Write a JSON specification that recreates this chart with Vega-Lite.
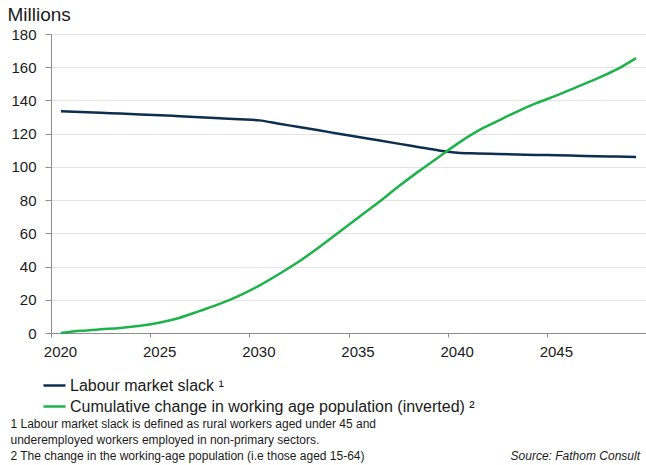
{
  "$schema": "https://vega.github.io/schema/vega-lite/v6.json",
  "width": 595,
  "height": 299,
  "autosize": "none",
  "padding": {"left": 51, "top": 34, "right": 0, "bottom": 132},
  "background": "white",
  "config": {
    "font": "Liberation Sans",
    "view": {"stroke": null}
  },
  "title": {
    "text": "Source: Fathom Consult",
    "orient": "bottom",
    "anchor": "end",
    "frame": "group",
    "fontSize": 12,
    "fontStyle": "italic",
    "fontWeight": "normal",
    "color": "#1a1a1a",
    "offset": 0,
    "dx": -6,
    "dy": -10
  },
  "data": {
    "values": [
      {"year": 2020.5, "series": "Labour market slack", "value": 133.5},
      {"year": 2021.5, "series": "Labour market slack", "value": 133.1},
      {"year": 2022.5, "series": "Labour market slack", "value": 132.6},
      {"year": 2023.5, "series": "Labour market slack", "value": 132.1},
      {"year": 2024.5, "series": "Labour market slack", "value": 131.6},
      {"year": 2025.5, "series": "Labour market slack", "value": 131.1},
      {"year": 2026.5, "series": "Labour market slack", "value": 130.5},
      {"year": 2027.5, "series": "Labour market slack", "value": 129.9},
      {"year": 2028.5, "series": "Labour market slack", "value": 129.3},
      {"year": 2029.5, "series": "Labour market slack", "value": 128.7},
      {"year": 2030.5, "series": "Labour market slack", "value": 128.0},
      {"year": 2031.5, "series": "Labour market slack", "value": 126.0},
      {"year": 2032.5, "series": "Labour market slack", "value": 124.0},
      {"year": 2033.5, "series": "Labour market slack", "value": 122.0},
      {"year": 2034.5, "series": "Labour market slack", "value": 120.0},
      {"year": 2035.5, "series": "Labour market slack", "value": 118.0},
      {"year": 2036.5, "series": "Labour market slack", "value": 116.0},
      {"year": 2037.5, "series": "Labour market slack", "value": 114.0},
      {"year": 2038.5, "series": "Labour market slack", "value": 112.0},
      {"year": 2039.5, "series": "Labour market slack", "value": 110.0},
      {"year": 2040.5, "series": "Labour market slack", "value": 108.5},
      {"year": 2041.5, "series": "Labour market slack", "value": 108.1},
      {"year": 2042.5, "series": "Labour market slack", "value": 107.8},
      {"year": 2043.5, "series": "Labour market slack", "value": 107.5},
      {"year": 2044.5, "series": "Labour market slack", "value": 107.2},
      {"year": 2045.5, "series": "Labour market slack", "value": 107.0},
      {"year": 2046.5, "series": "Labour market slack", "value": 106.7},
      {"year": 2047.5, "series": "Labour market slack", "value": 106.4},
      {"year": 2048.5, "series": "Labour market slack", "value": 106.2},
      {"year": 2049.5, "series": "Labour market slack", "value": 106.0},
      {"year": 2020.5, "series": "Cumulative change in working age population (inverted)", "value": 0},
      {"year": 2021.5, "series": "Cumulative change in working age population (inverted)", "value": 1.3},
      {"year": 2022.5, "series": "Cumulative change in working age population (inverted)", "value": 2.2},
      {"year": 2023.5, "series": "Cumulative change in working age population (inverted)", "value": 3.0},
      {"year": 2024.5, "series": "Cumulative change in working age population (inverted)", "value": 4.3},
      {"year": 2025.5, "series": "Cumulative change in working age population (inverted)", "value": 6.3},
      {"year": 2026.5, "series": "Cumulative change in working age population (inverted)", "value": 9.2},
      {"year": 2027.5, "series": "Cumulative change in working age population (inverted)", "value": 13.3},
      {"year": 2028.5, "series": "Cumulative change in working age population (inverted)", "value": 17.5},
      {"year": 2029.5, "series": "Cumulative change in working age population (inverted)", "value": 22.5},
      {"year": 2030.5, "series": "Cumulative change in working age population (inverted)", "value": 28.5},
      {"year": 2031.5, "series": "Cumulative change in working age population (inverted)", "value": 35.5},
      {"year": 2032.5, "series": "Cumulative change in working age population (inverted)", "value": 43.0},
      {"year": 2033.5, "series": "Cumulative change in working age population (inverted)", "value": 51.5},
      {"year": 2034.5, "series": "Cumulative change in working age population (inverted)", "value": 60.5},
      {"year": 2035.5, "series": "Cumulative change in working age population (inverted)", "value": 69.5},
      {"year": 2036.5, "series": "Cumulative change in working age population (inverted)", "value": 78.5},
      {"year": 2037.5, "series": "Cumulative change in working age population (inverted)", "value": 88.0},
      {"year": 2038.5, "series": "Cumulative change in working age population (inverted)", "value": 97.0},
      {"year": 2039.5, "series": "Cumulative change in working age population (inverted)", "value": 105.5},
      {"year": 2040.5, "series": "Cumulative change in working age population (inverted)", "value": 114.0},
      {"year": 2041.5, "series": "Cumulative change in working age population (inverted)", "value": 121.5},
      {"year": 2042.5, "series": "Cumulative change in working age population (inverted)", "value": 127.5},
      {"year": 2043.5, "series": "Cumulative change in working age population (inverted)", "value": 133.3},
      {"year": 2044.5, "series": "Cumulative change in working age population (inverted)", "value": 138.5},
      {"year": 2045.5, "series": "Cumulative change in working age population (inverted)", "value": 143.0},
      {"year": 2046.5, "series": "Cumulative change in working age population (inverted)", "value": 148.0},
      {"year": 2047.5, "series": "Cumulative change in working age population (inverted)", "value": 153.0},
      {"year": 2048.5, "series": "Cumulative change in working age population (inverted)", "value": 158.5},
      {"year": 2049.5, "series": "Cumulative change in working age population (inverted)", "value": 165.5}
    ]
  },
  "mark": {"type": "line", "interpolate": "monotone", "strokeWidth": 2.5},
  "encoding": {
    "x": {
      "field": "year",
      "type": "quantitative",
      "scale": {"domain": [2020, 2050], "nice": false, "zero": false},
      "axis": {
        "values": [2020, 2025, 2030, 2035, 2040, 2045],
        "format": "d",
        "grid": false,
        "domainColor": "#8c8c8c",
        "domainWidth": 1,
        "tickColor": "#8c8c8c",
        "tickSize": 4,
        "labelFontSize": 15,
        "labelColor": "#1a1a1a",
        "labelPadding": 7,
        "labelOffset": 9,
        "labelFlush": false,
        "title": [
          "1 Labour market slack is defined as rural workers aged under 45 and",
          "underemployed workers employed in non-primary sectors.",
          "2 The change in the working-age population (i.e those aged 15-64)"
        ],
        "titleFontSize": 12,
        "titleFontWeight": "normal",
        "titleColor": "#1a1a1a",
        "titleAlign": "left",
        "titleAnchor": "start",
        "titleBaseline": "alphabetic",
        "titleLineHeight": 16,
        "titleX": -41,
        "titleY": 94
      }
    },
    "y": {
      "field": "value",
      "type": "quantitative",
      "scale": {"domain": [0, 180], "nice": false},
      "axis": {
        "values": [0, 20, 40, 60, 80, 100, 120, 140, 160, 180],
        "grid": true,
        "gridColor": "#e3e3e3",
        "gridWidth": 1,
        "domainColor": "#8c8c8c",
        "tickColor": "#8c8c8c",
        "tickSize": 6,
        "labelFontSize": 15,
        "labelColor": "#1a1a1a",
        "labelPadding": 9,
        "title": "Millions",
        "titleAngle": 0,
        "titleAlign": "left",
        "titleBaseline": "alphabetic",
        "titleFontSize": 19,
        "titleFontWeight": "normal",
        "titleColor": "#1a1a1a",
        "titleX": -44,
        "titleY": -14
      }
    },
    "color": {
      "field": "series",
      "type": "nominal",
      "scale": {
        "domain": ["Labour market slack", "Cumulative change in working age population (inverted)"],
        "range": ["#0d2f4f", "#1db34a"]
      },
      "legend": {
        "orient": "none",
        "legendX": -9,
        "legendY": 339,
        "direction": "vertical",
        "title": null,
        "symbolType": "stroke",
        "symbolSize": 484,
        "symbolStrokeWidth": 2.5,
        "labelFontSize": 16,
        "labelColor": "#1a1a1a",
        "labelOffset": 3,
        "rowPadding": -3,
        "labelLimit": 600,
        "labelExpr": "datum.label == 'Labour market slack' ? 'Labour market slack ¹' : datum.label + ' ²'"
      }
    }
  }
}
